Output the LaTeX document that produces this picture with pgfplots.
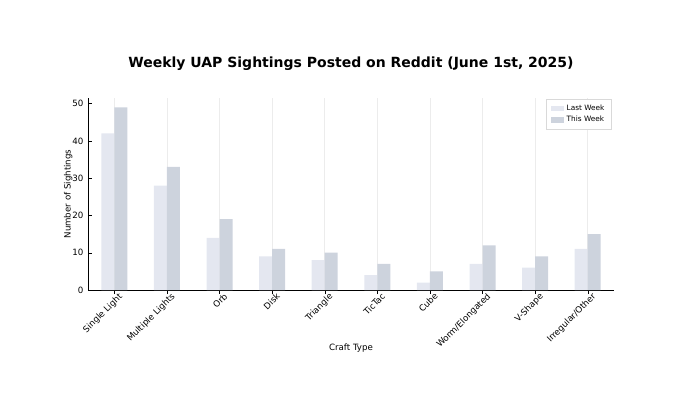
\documentclass[border=0pt]{standalone}
\usepackage{pgfplots}
\pgfplotsset{compat=1.18}
\usepackage{fontspec}
\setmainfont{DejaVu Sans}
\definecolor{lw}{HTML}{E4E7F0}
\definecolor{tw}{HTML}{CDD3DD}
\begin{document}
\begin{tikzpicture}
\path (-66pt,-93pt) rectangle (444pt,217.5pt);
\begin{axis}[at={(0,0)},anchor=south west,scale only axis,
 width=394.5pt,height=144pt,
 xmin=-0.5,xmax=9.5,ymin=0,ymax=51.5,
 ybar=0pt,bar width=9.75pt,
 axis x line*=bottom, axis y line*=left,
 xtick={0,...,9},
 xticklabels={Single Light,Multiple Lights,Orb,Disk,Triangle,TicTac,Cube,Worm/Elongated,V-Shape,Irregular/Other},
 xticklabel style={rotate=45,anchor=north east,font=\fontsize{6.5}{7}\selectfont,inner sep=1pt,xshift=4pt},
 ytick={0,10,20,30,40,50},
 yticklabel style={font=\fontsize{6.5}{7}\selectfont},
 /pgf/number format/assume math mode=true,
 xmajorgrids, grid style={gray!15},
 tick style={black}, major tick length=3pt,
 xlabel={Craft Type}, ylabel={Number of Sightings},
 xlabel style={yshift=9pt},
 ylabel style={yshift=-7pt},
 label style={font=\fontsize{6.5}{7}\selectfont},
 title={\bfseries Weekly UAP Sightings Posted on Reddit (June 1st, 2025)},
 title style={font=\fontsize{10.5}{12}\selectfont,yshift=11pt},
 legend style={at={(0.995,0.995)},anchor=north east,font=\fontsize{5.5}{6}\selectfont,draw=gray!30,row sep=-1pt},
 legend cell align=left,
 legend image code/.code={\fill[#1] (0pt,-2pt) rectangle (10pt,2pt);},
]
\addplot[fill=lw,draw=none] coordinates {(0,42)(1,28)(2,14)(3,9)(4,8)(5,4)(6,2)(7,7)(8,6)(9,11)};
\addplot[fill=tw,draw=none] coordinates {(0,49)(1,33)(2,19)(3,11)(4,10)(5,7)(6,5)(7,12)(8,9)(9,15)};
\legend{Last Week,This Week}
\end{axis}
\end{tikzpicture}
\end{document}
